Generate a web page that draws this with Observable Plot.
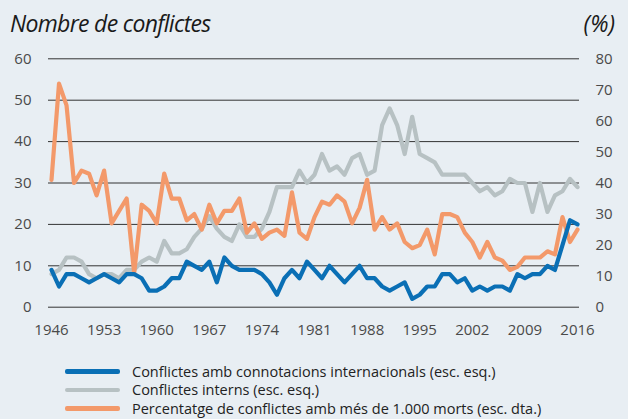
<!DOCTYPE html>
<html><head><meta charset="utf-8">
<script src="https://cdn.jsdelivr.net/npm/d3@7"></script>
<script src="https://cdn.jsdelivr.net/npm/@observablehq/plot@0.6"></script>
<style>
html,body{margin:0;padding:0;background:#e8eef3;}
#wrap{position:relative;width:628px;height:419px;background:#e8eef3;font-family:"Open Sans",sans-serif;overflow:hidden}
#title{position:absolute;left:10px;top:7px;font-style:italic;font-size:23px;color:#1a1a1a;letter-spacing:-0.7px;white-space:nowrap}
#unit{position:absolute;right:13px;top:7px;font-style:italic;font-size:23px;color:#1a1a1a}
#chart{position:absolute;left:0;top:40px}
#legend{position:absolute;left:65px;top:362px;font-size:14.5px;color:#222}
.row{display:flex;align-items:center;height:18.5px;white-space:nowrap}
.sw{width:55px;height:4.5px;border-radius:2px;margin-right:12px}
</style></head>
<body>
<div id="wrap">
  <div id="title">Nombre de conflictes</div>
  <div id="unit">(%)</div>
  <div id="chart"></div>
  <div id="legend"></div>
</div>
<script>
const years = d3.range(1946, 2017);
const international = [9,5,8,8,7,6,7,8,7,6,8,8,7,4,4,5,7,7,11,10,9,11,6,12,10,9,9,9,8,6,3,7,9,7,11,9,7,10,8,6,8,10,7,7,5,4,5,6,2,3,5,5,8,8,6,7,4,5,4,5,5,4,8,7,8,8,10,9,15,21,20];
const internal = [8,9,12,12,11,8,7,8,8,7,9,9,11,12,11,16,13,13,14,17,19,22,19,17,16,20,17,17,19,23,29,29,29,33,30,32,37,33,34,32,36,37,32,33,44,48,44,37,46,37,36,35,32,32,32,32,30,28,29,27,28,31,30,30,23,30,23,27,28,31,29];
const percent = [41,72,65,40,44,43,36,44,27,31,35,11,33,31,27,43,35,35,28,30,25,33,27,31,31,35,24,27,22,24,25,23,37,24,22,29,34,33,36,34,27,32,41,25,29,25,27,21,19,20,25,17,30,30,29,24,21,16,21,16,15,12,13,16,16,16,18,17,29,21,25];
const leftTicks = [0,10,20,30,40,50,60];
const rightTicks = [0,10,20,30,40,50,60,70,80];
const yearTicks = [1946,1953,1960,1967,1974,1981,1988,1995,2002,2009,2016];
const seriesNames = ["Conflictes amb connotacions internacionals (esc. esq.)","Conflictes interns (esc. esq.)","Percentatge de conflictes amb més de 1.000 morts (esc. dta.)"];
const colors = ["#0a6fb5","#b7c1c3","#f3996a"];

const ratio = 60/80;
const data = years.map((y,i)=>({year:y, intl:international[i], internal:internal[i], pct:percent[i]}));

const chart = Plot.plot({
  width: 628, height: 300,
  marginTop: 18.3, marginBottom: 33.3, marginLeft: 51, marginRight: 51,
  style: {background: "transparent", fontFamily: "'Open Sans', sans-serif", fontSize: "15px", color: "#4a4a4a", overflow: "visible"},
  x: {domain: [1946, 2016]},
  y: {domain: [0, 60]},
  marks: [
    Plot.ruleY(leftTicks, {stroke: "#333", strokeWidth: 1, insetLeft: -3, insetRight: -2}),
    Plot.axisY(leftTicks, {anchor: "left", tickSize: 0, tickPadding: 20, label: null}),
    Plot.axisY(rightTicks.map(d => d*ratio), {anchor: "right", tickSize: 0, tickPadding: 18, label: null, tickFormat: d => String(Math.round(d/ratio))}),
    Plot.axisX(yearTicks, {anchor: "bottom", tickSize: 0, tickPadding: 17, label: null, tickFormat: d => String(d)}),
    Plot.line(data, {x: "year", y: "internal", stroke: colors[1], strokeWidth: 4.2}),
    Plot.line(data, {x: "year", y: d => d.pct*ratio, stroke: colors[2], strokeWidth: 4.2}),
    Plot.line(data, {x: "year", y: "intl", stroke: colors[0], strokeWidth: 4.2})
  ]
});
document.getElementById("chart").appendChild(chart);

const legend = document.getElementById("legend");
seriesNames.forEach((name,i)=>{
  const row = document.createElement("div");
  row.className = "row";
  const sw = document.createElement("span");
  sw.className = "sw";
  sw.style.background = colors[i];
  const t = document.createElement("span");
  t.textContent = name;
  row.appendChild(sw); row.appendChild(t);
  legend.appendChild(row);
});
</script>
</body></html>
